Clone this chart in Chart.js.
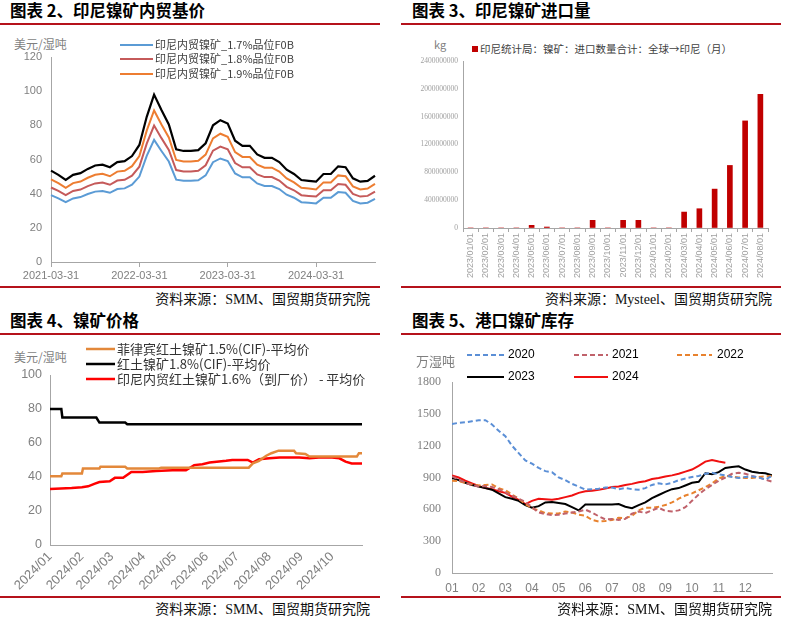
<!DOCTYPE html>
<html>
<head>
<meta charset="utf-8">
<script src="https://cdn.jsdelivr.net/npm/chart.js@4.4.1/dist/chart.umd.min.js"></script>
<style>
body { margin:0; background:#fff; width:788px; height:623px; overflow:hidden; position:relative; font-family:"Noto Sans CJK SC", sans-serif; }
.abs { position:absolute; white-space:nowrap; }
.title { font-size:16.5px; font-weight:bold; color:#000; line-height:20px; }
.rule { position:absolute; height:2px; background:#b5121b; }
.src { font-size:14px; line-height:16px; color:#111; font-family:"Liberation Serif","Noto Sans CJK SC",serif; text-align:right; }
.unit { font-size:12px; color:#7f7f7f; line-height:14px; }
.leg { font-size:11px; line-height:13px; color:#404040; }
canvas { position:absolute; }
svg { position:absolute; }
</style>
</head>
<body>

<!-- panel 1 -->
<div class="abs title" style="left:10px;top:0px;">图表 2、印尼镍矿内贸基价</div>
<div class="rule" style="left:0;top:23px;width:380px;"></div>
<div class="abs unit" style="left:14px;top:37px;">美元/湿吨</div>
<canvas id="c1" width="390" height="255" style="left:0;top:30px;"></canvas>
<svg width="33" height="4" style="left:120px;top:43px;"><line x1="0" y1="2" x2="33" y2="2" stroke="#5b9bd5" stroke-width="2.2"/></svg>
<svg width="33" height="4" style="left:120px;top:57px;"><line x1="0" y1="2" x2="33" y2="2" stroke="#c55a5a" stroke-width="2.2"/></svg>
<svg width="33" height="4" style="left:120px;top:72px;"><line x1="0" y1="2" x2="33" y2="2" stroke="#ed7d31" stroke-width="2.2"/></svg>
<div class="abs leg" style="left:155px;top:38px;">印尼内贸镍矿_1.7%品位F0B</div>
<div class="abs leg" style="left:155px;top:52px;">印尼内贸镍矿_1.8%品位F0B</div>
<div class="abs leg" style="left:155px;top:67px;">印尼内贸镍矿_1.9%品位F0B</div>
<div class="rule" style="left:0;top:286px;width:380px;"></div>
<div class="abs src" style="left:0;top:292px;width:370px;">资料来源：SMM、国贸期货研究院</div>

<!-- panel 2 -->
<div class="abs title" style="left:412px;top:0px;">图表 3、印尼镍矿进口量</div>
<div class="rule" style="left:401px;top:23px;width:380px;"></div>
<div class="abs unit" style="left:434px;top:37px;font-size:11px;">kg</div>
<div class="abs" style="left:472px;top:46px;width:6px;height:6px;background:#c00000;"></div>
<div class="abs leg" style="left:480px;top:42px;font-size:10.5px;">印尼统计局：镍矿：进口数量合计：全球→印尼（月）</div>
<canvas id="c2" width="394" height="255" style="left:394px;top:30px;"></canvas>
<div class="rule" style="left:401px;top:286px;width:380px;"></div>
<div class="abs src" style="left:394px;top:292px;width:378px;">资料来源：Mysteel、国贸期货研究院</div>

<!-- panel 3 -->
<div class="abs title" style="left:10px;top:310px;">图表 4、镍矿价格</div>
<div class="rule" style="left:0;top:333px;width:380px;"></div>
<div class="abs unit" style="left:14px;top:350px;">美元/湿吨</div>
<canvas id="c3" width="390" height="255" style="left:0;top:340px;"></canvas>
<svg width="29" height="4" style="left:86px;top:347px;"><line x1="0" y1="2" x2="29" y2="2" stroke="#e3883a" stroke-width="2.5"/></svg>
<svg width="29" height="4" style="left:86px;top:362px;"><line x1="0" y1="2" x2="29" y2="2" stroke="#000" stroke-width="2.5"/></svg>
<svg width="29" height="4" style="left:86px;top:377px;"><line x1="0" y1="2" x2="29" y2="2" stroke="#f00" stroke-width="2.5"/></svg>
<div class="abs leg" style="left:117px;top:341px;font-size:13px;line-height:16px;color:#333;">菲律宾红土镍矿1.5%(CIF)-平均价</div>
<div class="abs leg" style="left:117px;top:356px;font-size:13px;line-height:16px;color:#333;">红土镍矿1.8%(CIF)-平均价</div>
<div class="abs leg" style="left:117px;top:371px;font-size:13px;line-height:16px;color:#333;">印尼内贸红土镍矿1.6%（到厂价） - 平均价</div>
<div class="rule" style="left:0;top:596px;width:380px;"></div>
<div class="abs src" style="left:0;top:602px;width:370px;">资料来源：SMM、国贸期货研究院</div>

<!-- panel 4 -->
<div class="abs title" style="left:412px;top:310px;">图表 5、港口镍矿库存</div>
<div class="rule" style="left:401px;top:333px;width:380px;"></div>
<div class="abs unit" style="left:416px;top:354px;font-size:13px;">万湿吨</div>
<canvas id="c4" width="394" height="255" style="left:394px;top:340px;"></canvas>
<svg width="37" height="4" style="left:467px;top:353px;"><line x1="0" y1="2" x2="37" y2="2" stroke="#5b8fd6" stroke-width="2.2" stroke-dasharray="5,3"/></svg>
<svg width="34" height="4" style="left:574px;top:353px;"><line x1="0" y1="2" x2="34" y2="2" stroke="#c0626b" stroke-width="2.2" stroke-dasharray="5,3"/></svg>
<svg width="35" height="4" style="left:677px;top:353px;"><line x1="0" y1="2" x2="35" y2="2" stroke="#e8822e" stroke-width="2.2" stroke-dasharray="5,3"/></svg>
<svg width="37" height="4" style="left:467px;top:375px;"><line x1="0" y1="2" x2="37" y2="2" stroke="#000" stroke-width="2.2"/></svg>
<svg width="34" height="4" style="left:574px;top:375px;"><line x1="0" y1="2" x2="34" y2="2" stroke="#f01010" stroke-width="2.2"/></svg>
<div class="abs leg" style="left:508px;top:348px;font-family:'Liberation Sans';font-size:12px;color:#000;">2020</div>
<div class="abs leg" style="left:612px;top:348px;font-family:'Liberation Sans';font-size:12px;color:#000;">2021</div>
<div class="abs leg" style="left:717px;top:348px;font-family:'Liberation Sans';font-size:12px;color:#000;">2022</div>
<div class="abs leg" style="left:508px;top:370px;font-family:'Liberation Sans';font-size:12px;color:#000;">2023</div>
<div class="abs leg" style="left:612px;top:370px;font-family:'Liberation Sans';font-size:12px;color:#000;">2024</div>
<div class="rule" style="left:401px;top:596px;width:380px;"></div>
<div class="abs src" style="left:394px;top:602px;width:378px;">资料来源：SMM、国贸期货研究院</div>

<script>
// ---- chart 1: base prices (monthly)
const baseMonths = ['2021-03','2021-04','2021-05','2021-06','2021-07','2021-08','2021-09','2021-10','2021-11','2021-12',
  '2022-01','2022-02','2022-03','2022-04','2022-05','2022-06','2022-07','2022-08','2022-09','2022-10','2022-11','2022-12',
  '2023-01','2023-02','2023-03','2023-04','2023-05','2023-06','2023-07','2023-08','2023-09','2023-10','2023-11','2023-12',
  '2024-01','2024-02','2024-03','2024-04','2024-05','2024-06','2024-07','2024-08','2024-09','2024-10','2024-11'];
const baseTickLabels = ['2021-03-31','2022-03-31','2023-03-31','2024-03-31'];
const baseTop = [53.5,51,48,51,52,54.5,56.5,57,55.5,58.5,59,62,68.5,85,98,89,80.5,66,65,65,65.5,69.5,80,83,81,71,68,68,63,61,61,58.5,54,51.5,48,47.5,47,51.5,51.5,56,55.5,49,47,47.5,50.5];
const base19 = [48.4,46.2,43.4,46.2,47.1,49.3,51.1,51.6,50.2,52.9,53.4,56.1,62,76.9,88.7,80.5,72.9,59.7,58.8,58.8,59.3,62.9,72.4,75.1,73.3,64.3,61.5,61.5,57,55.2,55.2,52.9,48.9,46.6,43.4,43,42.5,46.6,46.6,50.7,50.2,44.3,42.5,43,45.7];
const base18 = [43.6,41.6,39.1,41.6,42.4,44.4,46,46.5,45.2,47.7,48.1,50.5,55.8,69.3,79.9,72.5,65.6,53.8,53,53,53.4,56.6,65.2,67.6,66,57.9,55.4,55.4,51.3,49.7,49.7,47.7,44,42,39.1,38.7,38.3,42,42,45.6,45.2,39.9,38.3,38.7,41.2];
const base17 = [39.1,37.2,35,37.2,38,39.8,41.2,41.6,40.5,42.7,43.1,45.3,50,62.1,71.5,65,58.8,48.2,47.5,47.5,47.8,50.7,58.4,60.6,59.1,51.8,49.6,49.6,46,44.5,44.5,42.7,39.4,37.6,35,34.7,34.3,37.6,37.6,40.9,40.5,35.8,34.3,34.7,36.9];

// ---- chart 2: imports (kg)
const importMonths = ['2023/01/01','2023/02/01','2023/03/01','2023/04/01','2023/05/01','2023/06/01','2023/07/01','2023/08/01',
  '2023/09/01','2023/10/01','2023/11/01','2023/12/01','2024/01/01','2024/02/01','2024/03/01','2024/04/01',
  '2024/05/01','2024/06/01','2024/07/01','2024/08/01'];
const importKg = [0,0,0,0,38000000,14000000,0,0,110000000,0,110000000,110000000,0,0,229000000,277000000,559000000,899000000,1539000000,1922000000];

// ---- chart 3: ore prices (day of 2024)
const priceMonthDays = [0,31,60,91,121,152,182,213,244,274];
const priceMonthLabels = ['2024/01','2024/02','2024/03','2024/04','2024/05','2024/06','2024/07','2024/08','2024/09','2024/10'];
const philDays = [0,11,12,31,32,48,49,73,75,106,108,193,197,203,210,215,222,237,239,248,252,298,300,303];
const philVals = [40.5,40.5,42,42,45,45,46,46,45,45,45.5,45.5,48,49.5,52.5,54,55.5,55.5,54,53.5,52,52,54,54];
const cifDays = [0,11,12,45,48,73,75,303];
const cifVals = [80,80,75,75,72,72,71,71];
const idnDays = [0,21,31,37,43,48,58,63,71,79,90,103,119,132,140,148,155,171,177,192,197,203,213,223,242,252,261,274,281,287,293,303];
const idnVals = [33,33.5,34,34.5,36,37,37.5,39.5,39.5,43,43,43.5,44,44,47,47.5,48.5,49.5,50,50,48.5,50.5,51,51.5,51.5,51,51.5,51.5,51,49,48,48];

// ---- chart 4: port inventory (month position)
const invGrid = [0,0.25,0.5,0.75,1,1.25,1.5,1.75,2,2.25,2.5,2.75,3,3.25,3.5,3.75,4,4.25,4.5,4.75,5,5.25,5.5,5.75,6,
  6.25,6.5,6.75,7,7.25,7.5,7.75,8,8.25,8.5,8.75,9,9.25,9.5,9.75,10,10.25,10.5,10.75,11,11.25,11.5,11.75,12];
const invMonthLabels = ['01','02','03','04','05','06','07','08','09','10','11','12'];
const invMonthTicks = [0,1,2,3,4,5,6,7,8,9,10,11];
const inv2020 = [1405,1415,1420,1430,1440,1440,1400,1340,1290,1200,1130,1060,1030,990,960,950,900,875,840,815,785,790,795,805,805,790,800,790,785,800,830,845,835,850,875,890,905,915,935,945,930,920,905,895,905,910,900,880,915];
const inv2021 = [910,880,850,830,815,820,810,790,760,730,700,670,620,570,555,545,550,560,570,580,597,570,535,505,508,500,510,560,580,565,590,615,585,580,590,620,680,740,790,830,870,900,935,945,935,915,900,880,860];
const inv2022 = [870,865,850,835,825,830,835,800,780,740,700,650,610,590,565,560,560,580,570,550,540,500,485,490,500,520,515,540,590,615,615,625,640,665,700,730,750,780,810,845,890,915,910,900,895,895,905,910,915];
const inv2023 = [895,875,850,830,815,800,785,750,715,700,680,640,615,630,665,670,660,650,620,590,645,645,645,645,645,650,625,610,640,665,705,735,765,790,800,825,850,860,940,930,950,990,1000,1005,975,955,945,940,920];
const inv2024 = [920,900,870,845,820,800,790,770,755,720,690,650,680,700,695,690,700,715,730,755,770,775,785,795,810,815,830,840,855,865,885,895,910,920,935,955,975,1010,1050,1065,1050,1040];

Chart.defaults.font.family = '"Liberation Sans", Arial, sans-serif';
Chart.defaults.animation = false;
Chart.defaults.plugins.legend.display = false;
Chart.defaults.plugins.tooltip.enabled = false;
Chart.defaults.elements.point.radius = 0;
Chart.defaults.elements.line.tension = 0;

const fixW = w => s => { s.width = w; };
const fixH = h => s => { s.height = h; };
const axisGray = '#a6a6a6';
const labelGray = '#808080';
const pairs = (xs, ys) => ys.map((v, i) => ({ x: xs[i], y: v }));

new Chart(document.getElementById('c1'), {
    type: 'line',
    data: {
        labels: baseMonths,
        datasets: [
            { data: baseTop, borderColor: '#000', borderWidth: 2.2 },
            { data: base19, borderColor: '#ed7d31', borderWidth: 2 },
            { data: base18, borderColor: '#c55a5a', borderWidth: 2 },
            { data: base17, borderColor: '#5b9bd5', borderWidth: 2 }
        ]
    },
    options: {
        responsive: false, devicePixelRatio: 1,
        layout: { padding: { top: 27, right: 15, left: 0, bottom: 0 } },
        scales: {
            x: {
                grid: { drawOnChartArea: false, tickLength: 5, color: c => c.index % 12 === 0 ? axisGray : 'rgba(0,0,0,0)' },
                border: { color: axisGray },
                ticks: { autoSkip: false, maxRotation: 0, padding: 2, color: labelGray, font: { size: 11 },
                    callback: (v, i) => i % 12 === 0 ? baseTickLabels[i / 12] : '' },
                afterFit: fixH(23)
            },
            y: {
                min: 0, max: 120,
                grid: { drawOnChartArea: false, drawTicks: false },
                border: { color: axisGray },
                ticks: { stepSize: 20, padding: 9, color: labelGray, font: { size: 11 } },
                afterFit: fixW(51)
            }
        }
    }
});

new Chart(document.getElementById('c2'), {
    type: 'bar',
    data: {
        labels: importMonths,
        datasets: [{ data: importKg, backgroundColor: '#c00000', barThickness: 5 }]
    },
    options: {
        responsive: false, devicePixelRatio: 1,
        layout: { padding: { top: 31, right: 20, left: 0, bottom: 0 } },
        scales: {
            x: {
                grid: { drawOnChartArea: false, tickLength: 4, color: axisGray },
                border: { color: axisGray },
                ticks: { autoSkip: false, minRotation: 90, maxRotation: 90, padding: 1, color: '#a0a0a0', font: { size: 9 } },
                afterFit: fixH(57)
            },
            y: {
                min: 0, max: 2400000000,
                grid: { drawOnChartArea: false, drawTicks: false },
                border: { color: axisGray },
                ticks: { stepSize: 400000000, padding: 5, color: '#a0a0a0', font: { size: 7.5, family: '"Liberation Serif", serif' },
                    callback: v => String(v) },
                afterFit: fixW(69)
            }
        }
    }
});

new Chart(document.getElementById('c3'), {
    type: 'line',
    data: {
        datasets: [
            { data: pairs(philDays, philVals), borderColor: '#e3883a', borderWidth: 2.5 },
            { data: pairs(cifDays, cifVals), borderColor: '#000', borderWidth: 2.5 },
            { data: pairs(idnDays, idnVals), borderColor: '#f00', borderWidth: 2.5 }
        ]
    },
    options: {
        responsive: false, devicePixelRatio: 1,
        layout: { padding: { top: 35, right: 28, left: 0, bottom: 0 } },
        scales: {
            x: {
                type: 'linear', min: 0, max: 303,
                afterBuildTicks: s => { s.ticks = priceMonthDays.map(v => ({ value: v })); },
                grid: { drawOnChartArea: false, drawTicks: false },
                border: { color: axisGray },
                ticks: { autoSkip: false, minRotation: 45, maxRotation: 45, padding: 4, color: labelGray, font: { size: 13 },
                    callback: (v, i) => priceMonthLabels[i] },
                afterFit: fixH(50)
            },
            y: {
                min: 0, max: 100,
                grid: { drawOnChartArea: false, drawTicks: false },
                border: { color: axisGray },
                ticks: { stepSize: 20, padding: 8, color: labelGray, font: { size: 12.5 } },
                afterFit: fixW(50)
            }
        }
    }
});

new Chart(document.getElementById('c4'), {
    type: 'line',
    data: {
        datasets: [
            { data: pairs(invGrid, inv2020), borderColor: '#5b8fd6', borderWidth: 2, borderDash: [5, 3] },
            { data: pairs(invGrid, inv2021), borderColor: '#c0626b', borderWidth: 2, borderDash: [5, 3] },
            { data: pairs(invGrid, inv2022), borderColor: '#e8822e', borderWidth: 2, borderDash: [5, 3] },
            { data: pairs(invGrid, inv2023), borderColor: '#000', borderWidth: 2 },
            { data: pairs(invGrid, inv2024), borderColor: '#f01010', borderWidth: 2 }
        ]
    },
    options: {
        responsive: false, devicePixelRatio: 1,
        layout: { padding: { top: 42, right: 16, left: 0, bottom: 0 } },
        scales: {
            x: {
                type: 'linear', min: 0, max: 12,
                afterBuildTicks: s => { s.ticks = invMonthTicks.map(v => ({ value: v })); },
                grid: { drawOnChartArea: false, drawTicks: false },
                border: { color: axisGray },
                ticks: { autoSkip: false, maxRotation: 0, padding: 8, color: labelGray, font: { size: 12 },
                    callback: (v, i) => invMonthLabels[i] },
                afterFit: fixH(22)
            },
            y: {
                min: 0, max: 1800,
                grid: { drawOnChartArea: false, drawTicks: false },
                border: { color: axisGray },
                ticks: { stepSize: 300, padding: 11, color: labelGray, font: { size: 12, family: '"Liberation Serif", serif' },
                    callback: v => String(v) },
                afterFit: fixW(58)
            }
        }
    }
});
</script>
</body>
</html>
